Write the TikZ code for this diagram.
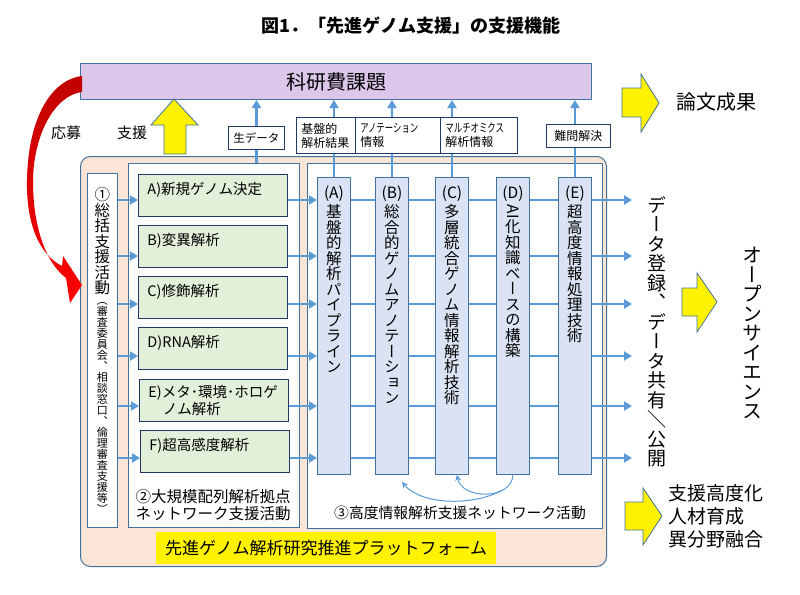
\documentclass[tikz,border=0pt]{standalone}
\usepackage{fontspec}
\setmainfont{Noto Sans CJK JP}
\newfontfamily\tatefont[RawFeature=+vert]{Noto Sans CJK JP}
\newfontfamily\yokofont{Noto Sans CJK JP}
\usepackage{graphicx}
\usepackage{tikz}
\usetikzlibrary{arrows.meta}
\usepackage{xcolor}
\definecolor{flowblue}{HTML}{5B9BD5}
\definecolor{edgeblue}{HTML}{41719C}
\definecolor{navy}{HTML}{203864}
\definecolor{peach}{HTML}{FBE5D6}
\definecolor{lilac}{HTML}{DCC6EA}
\definecolor{paleblue}{HTML}{DAE3F3}
\definecolor{palegreen}{HTML}{E2F0D9}
\definecolor{darkred}{HTML}{C00000}
% vertical (tategaki) stacking of characters
\makeatletter
\newcommand\tate[1]{\vbox{\tatefont\@tfor\tatechar:=#1\do{\hbox to 1.3em{\hss\tatechar\hss}}}}
\makeatother
\newcommand\narrow[1]{\scalebox{0.7}[1]{#1}}
\tikzstyle{panel} = [draw=edgeblue, fill=peach, line width=1pt, rounded corners=10pt, anchor=north west]
\tikzstyle{whitebox} = [draw=edgeblue, fill=white, line width=0.9pt, anchor=north west, inner sep=0]
\tikzstyle{greenbox} = [draw=navy, fill=palegreen, line width=0.9pt, anchor=north west,
    minimum width=149, minimum height=42, text width=131, inner xsep=9, inner ysep=4,
    align=left, font=\fontsize{14.5}{17}\selectfont]
\tikzstyle{oneline} = [text height=16, text depth=18]
\tikzstyle{column} = [draw=edgeblue, fill=paleblue, line width=0.9pt, anchor=north west,
    minimum width=33, minimum height=297]
\tikzstyle{coltext} = [anchor=north, inner sep=1, align=center, font=\fontsize{15.5}{15.5}\selectfont]
\tikzstyle{tag} = [draw=navy, fill=white, line width=0.9pt, anchor=north west,
    inner xsep=5, inner ysep=2, font=\fontsize{12}{14}\selectfont]
\tikzstyle{flow} = [draw=flowblue, line width=2.6pt, -{Triangle[length=8pt,width=9pt]}]
\tikzstyle{flowline} = [draw=flowblue, line width=2.6pt]
\tikzstyle{loopflow} = [draw=flowblue, line width=1pt, -{Stealth[length=6pt,width=6pt]}]
\tikzstyle{yarrow} = [fill=yellow, draw=edgeblue, line width=0.8pt]

\begin{document}
\begin{tikzpicture}[x=1pt, y=-1pt]
    \useasboundingbox (0,0) rectangle (800,594);
    \node[font=\fontsize{18}{18}\selectfont\bfseries] (title) at (411,26) {図1．「先進ゲノム支援」の支援機能};

    % main boxes
    \node[draw=edgeblue, fill=lilac, line width=1pt, anchor=north west, minimum width=511, minimum height=36,
        font=\fontsize{20}{20}\selectfont] (kaken) at (80,63) {科研費課題};
    \node[panel, minimum width=526, minimum height=410] (platform) at (80,156) {};
    \node[whitebox, minimum width=30, minimum height=354, align=center] (sogo) at (87,173)
        {{\fontsize{15.5}{15.5}\selectfont\tate{①総括支援活動}}\\[6pt]{\fontsize{11}{11}\selectfont\tate{（審査委員会、相談窓口、倫理審査支援等）}}};
    \node[whitebox, minimum width=171, minimum height=364] (kyoten) at (128,163) {};
    \node[whitebox, minimum width=295, minimum height=365] (joho) at (307,163) {};

    \node[greenbox, oneline] (gA) at (138,174) {A)新規ゲノム決定};
    \node[greenbox, oneline] (gB) at (138,225) {B)変異解析};
    \node[greenbox, oneline] (gC) at (138,276) {C)修飾解析};
    \node[greenbox, oneline] (gD) at (138,327) {D)RNA解析};
    \node[greenbox] (gE) at (139,379) {E)メタ･環境･ホロゲ\\\hspace*{1em}ノム解析};
    \node[greenbox, oneline] (gF) at (140,430) {F)超高感度解析};

    \node[column] (colA) at (317,177) {};
    \node[column] (colB) at (375,177) {};
    \node[column] (colC) at (435,177) {};
    \node[column] (colD) at (496,177) {};
    \node[column] (colE) at (558,177) {};

    % output labels
    \node[tag, minimum width=56, minimum height=23, font=\fontsize{11.5}{14}\selectfont] (seidata) at (228,126) {生データ};
    \node[tag, minimum width=59, minimum height=36, text width=49, align=left] (kiban) at (296,117) {基盤的\\解析結果};
    \node[tag, minimum width=85, minimum height=36, text width=75, align=left] (anno) at (355,117) {\narrow{アノテーション}\\情報};
    \node[tag, minimum width=77, minimum height=36, text width=67, align=left] (multi) at (440,117) {\narrow{マルチオミクス}\\解析情報};
    \node[tag, minimum width=64, minimum height=23] (nanmon) at (546,124) {難問解決};

    % upward flows
    \draw[flowline] (kyoten.north -| seidata.south) -- (seidata.south);
    \draw[flow] (seidata.north) -- (seidata.north |- kaken.south);
    \draw[flowline] (colA.north) -- (colA.north |- kiban.south);
    \draw[flow] (colA.north |- kiban.north) -- (colA.north |- kaken.south);
    \draw[flowline] (colB.north) -- (colB.north |- anno.south);
    \draw[flow] (colB.north |- anno.north) -- (colB.north |- kaken.south);
    \draw[flowline] (colC.north) -- (colC.north |- multi.south);
    \draw[flow] (colC.north |- multi.north) -- (colC.north |- kaken.south);
    \draw[flowline] (colE.north) -- (colE.north |- nanmon.south);
    \draw[flow] (colE.north |- nanmon.north) -- (colE.north |- kaken.south);

    % rows
    \coordinate (outR) at (632,0);
    \foreach \r/\y in {A/200, B/256, C/304, D/356, E/406, F/458} {
        \draw[flow] (sogo.east |- 0,\y) -- (g\r.west |- 0,\y);
        \draw[flow] (g\r.east |- 0,\y) -- (colA.west |- 0,\y);
        \draw[flowline] (colA.east |- 0,\y) -- (colB.west |- 0,\y);
        \draw[flowline] (colB.east |- 0,\y) -- (colC.west |- 0,\y);
        \draw[flowline] (colC.east |- 0,\y) -- (colD.west |- 0,\y);
        \draw[flowline] (colD.east |- 0,\y) -- (colE.west |- 0,\y);
        \draw[flow] (colE.east |- 0,\y) -- (outR |- 0,\y);
    }

    \node[coltext] (tA) at ([yshift=-8pt]colA.north) {(A)\\[2pt]\tate{基盤的解析パイプライン}};
    \node[coltext] (tB) at ([yshift=-8pt]colB.north) {(B)\\[2pt]\tate{総合的ゲノムアノテーション}};
    \node[coltext] (tC) at ([yshift=-8pt]colC.north) {(C)\\[2pt]\tate{多層統合ゲノム情報解析技術}};
    \node[coltext] (tD) at ([yshift=-8pt]colD.north) {(D)\\[2pt]\tate{{\rotatebox{-90}{AI}}化知識ベースの構築}};
    \node[coltext] (tE) at ([yshift=-8pt]colE.north) {(E)\\[2pt]\tate{超高度情報処理技術}};

    % exchange between columns
    \draw[loopflow] (colD.south) .. controls (512,500) and (462,500) .. ([xshift=5pt]colC.south) coordinate[pos=0.3] (split);
    \coordinate (bend) at (402,482);
    \draw[loopflow] (split) .. controls (470,507) and (420,504) .. (bend);

    \node[align=center, font=\fontsize{15.5}{16.5}\selectfont] (kyotenlabel) at (213,505) {②大規模配列解析拠点\\ネットワーク支援活動};
    \node[font=\fontsize{14.8}{16}\selectfont] (joholabel) at (460,513) {③高度情報解析支援ネットワーク活動};
    \node[fill=yellow, minimum width=340, minimum height=32, font=\fontsize{17}{17}\selectfont] (pflabel) at (326,548) {先進ゲノム解析研究推進プラットフォーム};

    % application and support
    \path[shade, top color=darkred, bottom color=red] (82,76) .. controls (50,80) and (28,120) .. (27,180)
        .. controls (26,225) and (40,255) .. (62,266) -- (63,256) -- (82,285) -- (70,303) -- (66,278)
        .. controls (45,262) and (33,225) .. (33,182) .. controls (33,135) and (55,95) .. (82,92) -- cycle;
    \node[font=\fontsize{15}{15}\selectfont] (oubo) at (66,133) {応募};
    \node[font=\fontsize{15}{15}\selectfont] (shien) at (132,133) {支援};
    \draw[yarrow] (174,99) -- (198,125) -- (186,125) -- (186,154) -- (164,154) -- (164,125) -- (151,125) -- cycle;

    % outcomes
    \draw[yarrow] (622,88) -- (641,88) -- (641,74) -- (659,103) -- (641,132) -- (641,117) -- (622,117) -- cycle;
    \node[font=\fontsize{20}{20}\selectfont] (ronbun) at (716,102) {論文成果};
    \node[font=\fontsize{19}{19.5}\selectfont] (touroku) at (657,332) {\tate{データ登録、データ共有{\yokofont ＼}公開}};
    \draw[yarrow] (682,288) -- (697,288) -- (697,273) -- (717,302) -- (697,332) -- (697,316) -- (682,316) -- cycle;
    \node[font=\fontsize{20}{19.5}\selectfont] (open) at (752,333) {\tate{オープンサイエンス}};
    \draw[yarrow] (625,502) -- (643,502) -- (643,488) -- (662,516) -- (643,545) -- (643,530) -- (625,530) -- cycle;
    \node[anchor=west, align=left, font=\fontsize{19}{23}\selectfont] (ikusei) at (665,516) {支援高度化\\人材育成\\異分野融合};
\end{tikzpicture}
\end{document}
